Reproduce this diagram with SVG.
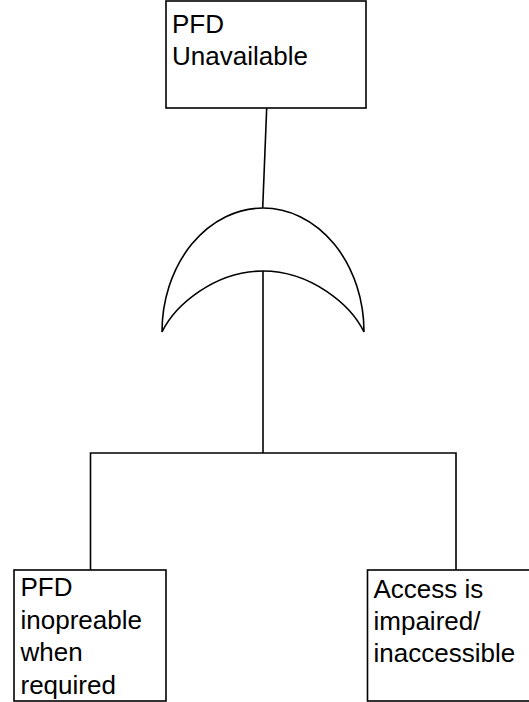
<svg xmlns="http://www.w3.org/2000/svg" width="529" height="702" viewBox="0 0 529 702">
<style>
.box{fill:#fff;stroke:#000;stroke-width:1.6}
.gate{fill:#fff;stroke:#000;stroke-width:1.6}
.conn{fill:none;stroke:#000;stroke-width:1.6}
text{font-family:"Liberation Sans",Arial,sans-serif;font-size:26px;fill:#000}
</style>
<rect width="529" height="702" fill="#fff"/>
<g id="connectors">
<line class="conn" x1="266.7" y1="108" x2="262.7" y2="208"/>
<line class="conn" x1="263" y1="270" x2="263" y2="453"/>
<polyline class="conn" points="90.5,570 90.5,453 456,453 456,570"/>
</g>
<g id="top-event">
<rect class="box" x="166" y="1" width="200" height="107"/>
<text x="172" y="33">PFD</text>
<text x="172" y="65">Unavailable</text>
</g>
<g id="or-gate">
<path class="gate" d="M162,332 A101,124 0 0 1 364,332 C351,305 311,271 263,271 C215,271 175,305 162,332 Z"/>
</g>
<g id="event-left">
<rect class="box" x="14" y="570" width="152" height="131"/>
<text x="20.5" y="596">PFD</text>
<text x="20.5" y="628.5">inopreable</text>
<text x="20.5" y="661">when</text>
<text x="20.5" y="693.5">required</text>
</g>
<g id="event-right">
<rect class="box" x="367.5" y="570" width="200" height="131"/>
<text x="373.5" y="597.5">Access is</text>
<text x="373.5" y="630">impaired/</text>
<text x="373.5" y="662">inaccessible</text>
</g>
</svg>
